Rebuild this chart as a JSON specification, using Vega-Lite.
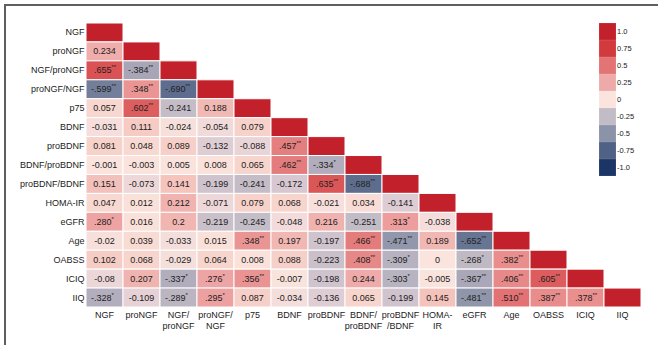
{
  "$schema": "https://vega.github.io/schema/vega-lite/v6.json",
  "width": 655,
  "height": 342,
  "autosize": {"type": "none"},
  "padding": {"left": 5, "top": 5, "right": 0, "bottom": 0},
  "background": "white",
  "config": {"view": {"stroke": "#5f5f5f", "strokeWidth": 2}, "font": "Liberation Sans"},
  "data": {
    "values": [
      {"row": "NGF", "col": "NGF", "r": 1, "label": "", "stars": ""},

      {"row": "proNGF", "col": "NGF", "r": 0.234, "label": "0.234", "stars": ""},
      {"row": "proNGF", "col": "proNGF", "r": 1, "label": "", "stars": ""},

      {"row": "NGF/proNGF", "col": "NGF", "r": 0.655, "label": ".655", "stars": "**"},
      {"row": "NGF/proNGF", "col": "proNGF", "r": -0.384, "label": "-.384", "stars": "**"},
      {"row": "NGF/proNGF", "col": "NGF/proNGF", "r": 1, "label": "", "stars": ""},

      {"row": "proNGF/NGF", "col": "NGF", "r": -0.599, "label": "-.599", "stars": "**"},
      {"row": "proNGF/NGF", "col": "proNGF", "r": 0.348, "label": ".348", "stars": "**"},
      {"row": "proNGF/NGF", "col": "NGF/proNGF", "r": -0.69, "label": "-.690", "stars": "**"},
      {"row": "proNGF/NGF", "col": "proNGF/NGF", "r": 1, "label": "", "stars": ""},

      {"row": "p75", "col": "NGF", "r": 0.057, "label": "0.057", "stars": ""},
      {"row": "p75", "col": "proNGF", "r": 0.602, "label": ".602", "stars": "**"},
      {"row": "p75", "col": "NGF/proNGF", "r": -0.241, "label": "-0.241", "stars": ""},
      {"row": "p75", "col": "proNGF/NGF", "r": 0.188, "label": "0.188", "stars": ""},
      {"row": "p75", "col": "p75", "r": 1, "label": "", "stars": ""},

      {"row": "BDNF", "col": "NGF", "r": -0.031, "label": "-0.031", "stars": ""},
      {"row": "BDNF", "col": "proNGF", "r": 0.111, "label": "0.111", "stars": ""},
      {"row": "BDNF", "col": "NGF/proNGF", "r": -0.024, "label": "-0.024", "stars": ""},
      {"row": "BDNF", "col": "proNGF/NGF", "r": -0.054, "label": "-0.054", "stars": ""},
      {"row": "BDNF", "col": "p75", "r": 0.079, "label": "0.079", "stars": ""},
      {"row": "BDNF", "col": "BDNF", "r": 1, "label": "", "stars": ""},

      {"row": "proBDNF", "col": "NGF", "r": 0.081, "label": "0.081", "stars": ""},
      {"row": "proBDNF", "col": "proNGF", "r": 0.048, "label": "0.048", "stars": ""},
      {"row": "proBDNF", "col": "NGF/proNGF", "r": 0.089, "label": "0.089", "stars": ""},
      {"row": "proBDNF", "col": "proNGF/NGF", "r": -0.132, "label": "-0.132", "stars": ""},
      {"row": "proBDNF", "col": "p75", "r": -0.088, "label": "-0.088", "stars": ""},
      {"row": "proBDNF", "col": "BDNF", "r": 0.457, "label": ".457", "stars": "**"},
      {"row": "proBDNF", "col": "proBDNF", "r": 1, "label": "", "stars": ""},

      {"row": "BDNF/proBDNF", "col": "NGF", "r": -0.001, "label": "-0.001", "stars": ""},
      {"row": "BDNF/proBDNF", "col": "proNGF", "r": -0.003, "label": "-0.003", "stars": ""},
      {"row": "BDNF/proBDNF", "col": "NGF/proNGF", "r": 0.005, "label": "0.005", "stars": ""},
      {"row": "BDNF/proBDNF", "col": "proNGF/NGF", "r": 0.008, "label": "0.008", "stars": ""},
      {"row": "BDNF/proBDNF", "col": "p75", "r": 0.065, "label": "0.065", "stars": ""},
      {"row": "BDNF/proBDNF", "col": "BDNF", "r": 0.462, "label": ".462", "stars": "**"},
      {"row": "BDNF/proBDNF", "col": "proBDNF", "r": -0.334, "label": "-.334", "stars": "*"},
      {"row": "BDNF/proBDNF", "col": "BDNF/proBDNF", "r": 1, "label": "", "stars": ""},

      {"row": "proBDNF/BDNF", "col": "NGF", "r": 0.151, "label": "0.151", "stars": ""},
      {"row": "proBDNF/BDNF", "col": "proNGF", "r": -0.073, "label": "-0.073", "stars": ""},
      {"row": "proBDNF/BDNF", "col": "NGF/proNGF", "r": 0.141, "label": "0.141", "stars": ""},
      {"row": "proBDNF/BDNF", "col": "proNGF/NGF", "r": -0.199, "label": "-0.199", "stars": ""},
      {"row": "proBDNF/BDNF", "col": "p75", "r": -0.241, "label": "-0.241", "stars": ""},
      {"row": "proBDNF/BDNF", "col": "BDNF", "r": -0.172, "label": "-0.172", "stars": ""},
      {"row": "proBDNF/BDNF", "col": "proBDNF", "r": 0.635, "label": ".635", "stars": "**"},
      {"row": "proBDNF/BDNF", "col": "BDNF/proBDNF", "r": -0.688, "label": "-.688", "stars": "**"},
      {"row": "proBDNF/BDNF", "col": "proBDNF/BDNF", "r": 1, "label": "", "stars": ""},

      {"row": "HOMA-IR", "col": "NGF", "r": 0.047, "label": "0.047", "stars": ""},
      {"row": "HOMA-IR", "col": "proNGF", "r": 0.012, "label": "0.012", "stars": ""},
      {"row": "HOMA-IR", "col": "NGF/proNGF", "r": 0.212, "label": "0.212", "stars": ""},
      {"row": "HOMA-IR", "col": "proNGF/NGF", "r": -0.071, "label": "-0.071", "stars": ""},
      {"row": "HOMA-IR", "col": "p75", "r": 0.079, "label": "0.079", "stars": ""},
      {"row": "HOMA-IR", "col": "BDNF", "r": 0.068, "label": "0.068", "stars": ""},
      {"row": "HOMA-IR", "col": "proBDNF", "r": -0.021, "label": "-0.021", "stars": ""},
      {"row": "HOMA-IR", "col": "BDNF/proBDNF", "r": 0.034, "label": "0.034", "stars": ""},
      {"row": "HOMA-IR", "col": "proBDNF/BDNF", "r": -0.141, "label": "-0.141", "stars": ""},
      {"row": "HOMA-IR", "col": "HOMA-IR", "r": 1, "label": "", "stars": ""},

      {"row": "eGFR", "col": "NGF", "r": 0.28, "label": ".280", "stars": "*"},
      {"row": "eGFR", "col": "proNGF", "r": 0.016, "label": "0.016", "stars": ""},
      {"row": "eGFR", "col": "NGF/proNGF", "r": 0.2, "label": "0.2", "stars": ""},
      {"row": "eGFR", "col": "proNGF/NGF", "r": -0.219, "label": "-0.219", "stars": ""},
      {"row": "eGFR", "col": "p75", "r": -0.245, "label": "-0.245", "stars": ""},
      {"row": "eGFR", "col": "BDNF", "r": -0.048, "label": "-0.048", "stars": ""},
      {"row": "eGFR", "col": "proBDNF", "r": 0.216, "label": "0.216", "stars": ""},
      {"row": "eGFR", "col": "BDNF/proBDNF", "r": -0.251, "label": "-0.251", "stars": ""},
      {"row": "eGFR", "col": "proBDNF/BDNF", "r": 0.313, "label": ".313", "stars": "*"},
      {"row": "eGFR", "col": "HOMA-IR", "r": -0.038, "label": "-0.038", "stars": ""},
      {"row": "eGFR", "col": "eGFR", "r": 1, "label": "", "stars": ""},

      {"row": "Age", "col": "NGF", "r": -0.02, "label": "-0.02", "stars": ""},
      {"row": "Age", "col": "proNGF", "r": 0.039, "label": "0.039", "stars": ""},
      {"row": "Age", "col": "NGF/proNGF", "r": -0.033, "label": "-0.033", "stars": ""},
      {"row": "Age", "col": "proNGF/NGF", "r": 0.015, "label": "0.015", "stars": ""},
      {"row": "Age", "col": "p75", "r": 0.348, "label": ".348", "stars": "**"},
      {"row": "Age", "col": "BDNF", "r": 0.197, "label": "0.197", "stars": ""},
      {"row": "Age", "col": "proBDNF", "r": -0.197, "label": "-0.197", "stars": ""},
      {"row": "Age", "col": "BDNF/proBDNF", "r": 0.466, "label": ".466", "stars": "**"},
      {"row": "Age", "col": "proBDNF/BDNF", "r": -0.471, "label": "-.471", "stars": "**"},
      {"row": "Age", "col": "HOMA-IR", "r": 0.189, "label": "0.189", "stars": ""},
      {"row": "Age", "col": "eGFR", "r": -0.652, "label": "-.652", "stars": "**"},
      {"row": "Age", "col": "Age", "r": 1, "label": "", "stars": ""},

      {"row": "OABSS", "col": "NGF", "r": 0.102, "label": "0.102", "stars": ""},
      {"row": "OABSS", "col": "proNGF", "r": 0.068, "label": "0.068", "stars": ""},
      {"row": "OABSS", "col": "NGF/proNGF", "r": -0.029, "label": "-0.029", "stars": ""},
      {"row": "OABSS", "col": "proNGF/NGF", "r": 0.064, "label": "0.064", "stars": ""},
      {"row": "OABSS", "col": "p75", "r": 0.008, "label": "0.008", "stars": ""},
      {"row": "OABSS", "col": "BDNF", "r": 0.088, "label": "0.088", "stars": ""},
      {"row": "OABSS", "col": "proBDNF", "r": -0.223, "label": "-0.223", "stars": ""},
      {"row": "OABSS", "col": "BDNF/proBDNF", "r": 0.408, "label": ".408", "stars": "**"},
      {"row": "OABSS", "col": "proBDNF/BDNF", "r": -0.309, "label": "-.309", "stars": "*"},
      {"row": "OABSS", "col": "HOMA-IR", "r": 0, "label": "0", "stars": ""},
      {"row": "OABSS", "col": "eGFR", "r": -0.268, "label": "-.268", "stars": "*"},
      {"row": "OABSS", "col": "Age", "r": 0.382, "label": ".382", "stars": "**"},
      {"row": "OABSS", "col": "OABSS", "r": 1, "label": "", "stars": ""},

      {"row": "ICIQ", "col": "NGF", "r": -0.08, "label": "-0.08", "stars": ""},
      {"row": "ICIQ", "col": "proNGF", "r": 0.207, "label": "0.207", "stars": ""},
      {"row": "ICIQ", "col": "NGF/proNGF", "r": -0.337, "label": "-.337", "stars": "*"},
      {"row": "ICIQ", "col": "proNGF/NGF", "r": 0.276, "label": ".276", "stars": "*"},
      {"row": "ICIQ", "col": "p75", "r": 0.356, "label": ".356", "stars": "**"},
      {"row": "ICIQ", "col": "BDNF", "r": -0.007, "label": "-0.007", "stars": ""},
      {"row": "ICIQ", "col": "proBDNF", "r": -0.198, "label": "-0.198", "stars": ""},
      {"row": "ICIQ", "col": "BDNF/proBDNF", "r": 0.244, "label": "0.244", "stars": ""},
      {"row": "ICIQ", "col": "proBDNF/BDNF", "r": -0.303, "label": "-.303", "stars": "*"},
      {"row": "ICIQ", "col": "HOMA-IR", "r": -0.005, "label": "-0.005", "stars": ""},
      {"row": "ICIQ", "col": "eGFR", "r": -0.367, "label": "-.367", "stars": "**"},
      {"row": "ICIQ", "col": "Age", "r": 0.406, "label": ".406", "stars": "**"},
      {"row": "ICIQ", "col": "OABSS", "r": 0.605, "label": ".605", "stars": "**"},
      {"row": "ICIQ", "col": "ICIQ", "r": 1, "label": "", "stars": ""},

      {"row": "IIQ", "col": "NGF", "r": -0.328, "label": "-.328", "stars": "*"},
      {"row": "IIQ", "col": "proNGF", "r": -0.109, "label": "-0.109", "stars": ""},
      {"row": "IIQ", "col": "NGF/proNGF", "r": -0.289, "label": "-.289", "stars": "*"},
      {"row": "IIQ", "col": "proNGF/NGF", "r": 0.295, "label": ".295", "stars": "*"},
      {"row": "IIQ", "col": "p75", "r": 0.087, "label": "0.087", "stars": ""},
      {"row": "IIQ", "col": "BDNF", "r": -0.034, "label": "-0.034", "stars": ""},
      {"row": "IIQ", "col": "proBDNF", "r": -0.136, "label": "-0.136", "stars": ""},
      {"row": "IIQ", "col": "BDNF/proBDNF", "r": 0.065, "label": "0.065", "stars": ""},
      {"row": "IIQ", "col": "proBDNF/BDNF", "r": -0.199, "label": "-0.199", "stars": ""},
      {"row": "IIQ", "col": "HOMA-IR", "r": 0.145, "label": "0.145", "stars": ""},
      {"row": "IIQ", "col": "eGFR", "r": -0.481, "label": "-.481", "stars": "**"},
      {"row": "IIQ", "col": "Age", "r": 0.51, "label": ".510", "stars": "**"},
      {"row": "IIQ", "col": "OABSS", "r": 0.387, "label": ".387", "stars": "**"},
      {"row": "IIQ", "col": "ICIQ", "r": 0.378, "label": ".378", "stars": "**"},
      {"row": "IIQ", "col": "IIQ", "r": 1, "label": "", "stars": ""}
    ]
  },
  "encoding": {
    "x": {
      "field": "col",
      "type": "nominal",
      "sort": ["NGF", "proNGF", "NGF/proNGF", "proNGF/NGF", "p75", "BDNF", "proBDNF", "BDNF/proBDNF", "proBDNF/BDNF", "HOMA-IR", "eGFR", "Age", "OABSS", "ICIQ", "IIQ"],
      "scale": {"paddingInner": 0, "paddingOuter": 0, "range": [81, 636], "round": false},
      "axis": {
        "title": null,
        "orient": "bottom",
        "offset": -40,
        "labelAngle": 0,
        "labelFontSize": 9,
        "labelColor": "#222222",
        "labelPadding": 3,
        "labelLineHeight": 11,
        "ticks": false,
        "domain": false,
        "labelExpr": "datum.value == 'NGF/proNGF' ? ['NGF/', 'proNGF'] : datum.value == 'proNGF/NGF' ? ['proNGF/', 'NGF'] : datum.value == 'BDNF/proBDNF' ? ['BDNF/', 'proBDNF'] : datum.value == 'proBDNF/BDNF' ? ['proBDNF', '/BDNF'] : datum.value == 'HOMA-IR' ? ['HOMA-', 'IR'] : datum.label"
      }
    },
    "y": {
      "field": "row",
      "type": "nominal",
      "sort": ["NGF", "proNGF", "NGF/proNGF", "proNGF/NGF", "p75", "BDNF", "proBDNF", "BDNF/proBDNF", "proBDNF/BDNF", "HOMA-IR", "eGFR", "Age", "OABSS", "ICIQ", "IIQ"],
      "scale": {"paddingInner": 0, "paddingOuter": 0, "range": [18, 302], "round": false},
      "axis": {
        "title": null,
        "offset": -81,
        "labelFontSize": 9,
        "labelColor": "#222222",
        "labelPadding": 2,
        "ticks": false,
        "domain": false
      }
    }
  },
  "layer": [
    {
      "mark": {"type": "rect", "stroke": "white", "strokeWidth": 1},
      "encoding": {
        "fill": {
          "field": "r",
          "type": "quantitative",
          "scale": {
            "domain": [-1, -0.75, -0.5, -0.25, 0, 0.25, 0.5, 0.75, 1],
            "range": ["#1b3566", "#4f6184", "#8b93a8", "#c2bcc6", "#fae4dd", "#eeaaa9", "#e27475", "#d33a3d", "#c2202b"]
          },
          "legend": {
            "type": "symbol",
            "title": null,
            "orient": "none",
            "legendX": 594,
            "legendY": 18,
            "direction": "vertical",
            "padding": 0,
            "values": [1, 0.75, 0.5, 0.25, 0, -0.25, -0.5, -0.75, -1],
            "symbolType": "square",
            "symbolSize": 285,
            "symbolStrokeWidth": 0,
            "symbolOpacity": 1,
            "rowPadding": 0,
            "labelFontSize": 7.5,
            "labelColor": "#222222",
            "labelOffset": 1,
            "labelExpr": "datum.value == 1 ? '1.0' : datum.value == 0.75 ? '0.75' : datum.value == 0.5 ? '0.5' : datum.value == 0.25 ? '0.25' : datum.value == 0 ? '0' : datum.value == -0.25 ? '-0.25' : datum.value == -0.5 ? '-0.5' : datum.value == -0.75 ? '-0.75' : '-1.0'",
            "encode": {
              "symbols": {
                "update": {
                  "stroke": {"value": "transparent"},
                  "strokeWidth": {"value": 0}
                }
              }
            }
          }
        }
      }
    },
    {
      "transform": [{"filter": "datum.label != '' && datum.stars == ''"}],
      "mark": {"type": "text", "fontSize": 9, "color": "#222222"},
      "encoding": {"text": {"field": "label", "type": "nominal"}}
    },
    {
      "transform": [{"filter": "datum.stars != ''"}],
      "mark": {"type": "text", "fontSize": 9, "color": "#222222", "align": "right", "dx": 7},
      "encoding": {"text": {"field": "label", "type": "nominal"}}
    },
    {
      "transform": [{"filter": "datum.stars != ''"}],
      "mark": {"type": "text", "fontSize": 6, "color": "#222222", "align": "left", "dx": 7, "dy": -3},
      "encoding": {"text": {"field": "stars", "type": "nominal"}}
    }
  ]
}
